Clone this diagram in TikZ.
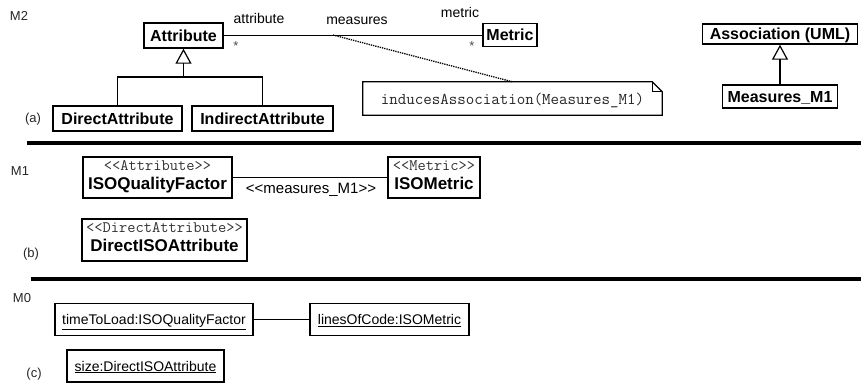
\documentclass[tikz,border=0pt]{standalone}
\usepackage{fontspec}
\setmainfont{Liberation Sans}
\usetikzlibrary{arrows.meta}

\tikzset{
  box/.style={draw, line width=1.4pt, fill=white, inner sep=0pt},
  cls/.style={box, font=\bfseries\fontsize{16}{18}\selectfont, text height=11.5pt, text depth=0pt},
  obj/.style={box, font=\fontsize{14}{16}\selectfont, text height=10pt, text depth=0pt},
  stereo/.style={anchor=base, inner sep=0pt, text=black!80, font=\ttfamily\fontsize{16}{18}\selectfont},
  sname/.style={anchor=base, inner sep=0pt, font=\bfseries\fontsize{17}{19}\selectfont},
  lbl/.style={inner sep=0pt, font=\fontsize{14}{16}\selectfont},
  mult/.style={inner sep=0pt, text=black!70, font=\fontsize{13}{14}\selectfont},
  layer/.style={inner sep=0pt, text=black!85, font=\fontsize{13}{15}\selectfont},
  assocline/.style={line width=1.3pt},
  sep/.style={line width=3.5pt},
  gen/.style={line width=1.3pt, -{Triangle[open, length=15pt, width=16pt, line width=1.2pt]}},
  notelink/.style={line width=1.3pt, densely dotted}
}

\begin{document}
\begin{tikzpicture}[x=1pt, y=-1pt]
\useasboundingbox (0,0) rectangle (861,384);

% ---------- level M2 ----------
\node[layer] (m2) at (19,16) {M2};
\node[layer] (la) at (33,119) {(a)};

\node[cls, minimum width=79, minimum height=25] (attr) at (183.5,35.5) {Attribute};
\node[cls, minimum width=54, minimum height=23] (metric) at (510,35) {Metric};
\node[cls, minimum width=129, minimum height=25] (da) at (117.5,118.5) {DirectAttribute};
\node[cls, minimum width=141, minimum height=25] (ia) at (262.5,118.5) {IndirectAttribute};

% association measures
\draw[assocline] (attr.east) -- (attr.east -| metric.west);
\node[lbl] (rolea) at (259,18) {attribute};
\node[lbl] (assocname) at (357,21) {measures};
\node[lbl] (rolem) at (460,12) {metric};
\node[mult] (multa) at (236,46) {*};
\node[mult] (multm) at (472,46) {*};

% generalization of the two attribute kinds
\coordinate (joint) at (183.5,77);
\draw[line width=1.3pt] (da.north) -- (da.north |- joint) -- (ia.north |- joint) -- (ia.north);
\draw[gen] (joint) -- (attr.south);

% note attached to the association
\node[inner sep=0pt, minimum width=299, minimum height=33] (note) at (512.5,98.5) {};
\draw[line width=1.2pt, fill=white]
  (note.north west) -- ([xshift=-10]note.north east) -- ([yshift=-10]note.north east)
  -- (note.south east) -- (note.south west) -- cycle;
\draw[line width=1pt] ([xshift=-10]note.north east) -- ([xshift=-10,yshift=-10]note.north east) -- ([yshift=-10]note.north east);
\node[inner sep=0pt, font=\ttfamily\fontsize{16.5}{18}\selectfont, text=black!85] (notetext) at ([yshift=-2]note.center)
      {inducesAssociation(Measures\_M1)};
\coordinate (assocmid) at (333,35);
\draw[notelink] (assocmid) -- (note.north);

% UML association metaclass
\node[cls, minimum width=155, minimum height=20] (uml) at (780,34) {Association (UML)};
\node[cls, minimum width=115, minimum height=23] (meas) at (780,96.5) {Measures\_M1};
\draw[gen] (meas.north) -- (uml.south);

\draw[sep] (27,143) -- (861,143);

% ---------- level M1 ----------
\node[layer] (m1) at (20,171) {M1};
\node[layer] (lb) at (31,254) {(b)};

\node[box, minimum width=149, minimum height=41] (iqf) at (157.5,177.5) {};
\node[stereo] (iqfs) at ([yshift=-14.5]iqf.north) {{<}{<}Attribute{>}{>}};
\node[sname] (iqfn) at ([yshift=-33]iqf.north) {ISOQualityFactor};

\node[box, minimum width=92, minimum height=41] (ism) at (434,177.5) {};
\node[stereo] (isms) at ([yshift=-14.5]ism.north) {{<}{<}Metric{>}{>}};
\node[sname] (ismn) at ([yshift=-33]ism.north) {ISOMetric};

\draw[assocline] (iqf.east) -- (ism.west);
\node[lbl, font=\fontsize{15}{17}\selectfont] (mlbl) at (311,190) {{<}{<}measures\_M1{>}{>}};

\node[box, minimum width=165, minimum height=42] (dia) at (164.5,240) {};
\node[stereo] (dias) at ([yshift=-14.5]dia.north) {{<}{<}DirectAttribute{>}{>}};
\node[sname] (dian) at ([yshift=-33]dia.north) {DirectISOAttribute};

\draw[sep] (31,279) -- (861,279);

% ---------- level M0 ----------
\node[layer] (m0) at (22,298) {M0};
\node[layer] (lc) at (34,374) {(c)};

\node[obj, minimum width=198, minimum height=32] (ttl) at (154,319.5) {\underline{timeToLoad:ISOQualityFactor}};
\node[obj, minimum width=159, minimum height=32] (loc) at (389.5,319.5) {\underline{linesOfCode:ISOMetric}};
\draw[assocline] (ttl.east) -- (loc.west);
\node[obj, minimum width=157, minimum height=32] (sz) at (145.5,366) {\underline{size:DirectISOAttribute}};

\end{tikzpicture}
\end{document}
